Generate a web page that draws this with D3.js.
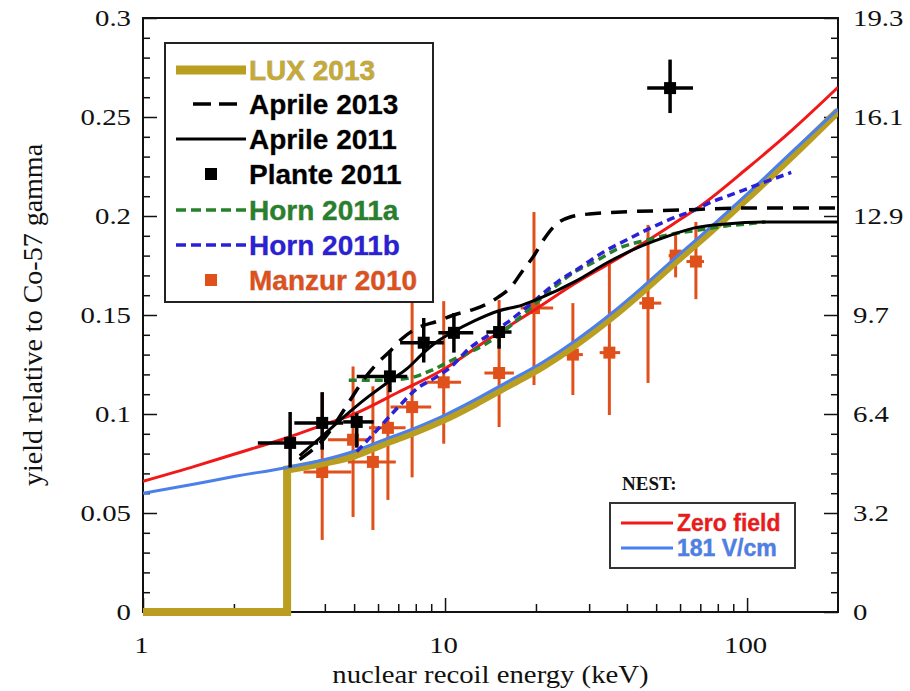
<!DOCTYPE html>
<html>
<head>
<meta charset="utf-8">
<script src="https://cdn.jsdelivr.net/npm/d3@7/dist/d3.min.js"></script>
<style>
  body { margin: 0; background: #fff; }
  svg text { font-family: "Liberation Serif", "Times New Roman", serif; fill: #111; }
  .leg text { font-family: "Liberation Sans", Arial, sans-serif; font-weight: bold;
    stroke: rgba(0, 0, 0, 0.35); stroke-width: 0.8px; paint-order: stroke; }
</style>
</head>
<body>
<svg id="chart" width="910" height="691"></svg>
<script>
// ---- data ----
const yTicks = [0, 0.05, 0.1, 0.15, 0.2, 0.25, 0.3];
const yTickLabels = ["0", "0.05", "0.1", "0.15", "0.2", "0.25", "0.3"];
const rightTickLabels = ["0", "3.2", "6.4", "9.7", "12.9", "16.1", "19.3"];
const xTicks = [1, 10, 100];

// LUX 2013 (step from 1 to 3 keV, then smooth curve)
const luxStep = [[1, 0], [3, 0], [3, 0.072]];
const lux2013 = [[3, 0.072], [4, 0.0755], [5, 0.079], [6.27, 0.085], [8.1, 0.0915], [10, 0.0975],
  [12.5, 0.105], [16, 0.114], [21, 0.124], [27, 0.135], [35, 0.148], [45, 0.162], [57, 0.176],
  [74, 0.191], [100, 0.209], [140, 0.23], [200, 0.253]];

const aprile2013 = [[3.3, 0.077], [4, 0.088], [4.9, 0.108], [5.3, 0.116], [6, 0.126], [6.6, 0.132],
  [7.2, 0.138], [8, 0.143], [9.5, 0.147], [10.7, 0.15], [12.5, 0.153], [13.5, 0.155], [15, 0.159],
  [16.5, 0.164], [18, 0.172], [19.7, 0.18], [21.2, 0.188], [23.4, 0.196], [26, 0.1995], [30, 0.201],
  [60, 0.203], [100, 0.204], [200, 0.204]];

const aprile2011 = [[3.3, 0.079], [4, 0.09], [5, 0.103], [5.6, 0.109], [6.6, 0.117], [7.5, 0.123],
  [8.5, 0.131], [9.5, 0.137], [10.5, 0.141], [12.5, 0.147], [15, 0.152], [18, 0.155], [21, 0.159],
  [27, 0.167], [35, 0.177], [45, 0.185], [55, 0.19], [67, 0.194], [85, 0.196], [120, 0.197], [200, 0.197]];

const horn2011a = [[4.8, 0.117], [6, 0.117], [7.5, 0.118], [9, 0.122], [10.5, 0.127], [12, 0.131],
  [13.5, 0.135], [16, 0.143], [19, 0.153], [23, 0.164], [27, 0.172], [30.5, 0.176], [38, 0.184],
  [47, 0.188], [57, 0.191], [70, 0.193], [85, 0.195], [100, 0.196], [115, 0.197]];

const horn2011b = [[5.1, 0.081], [5.8, 0.09], [7, 0.1035], [8.1, 0.113], [9.2, 0.118], [10.5, 0.124],
  [12, 0.133], [14, 0.14], [16, 0.146], [19, 0.155], [23.7, 0.167], [28, 0.174], [33.6, 0.182],
  [40, 0.188], [48, 0.194], [57, 0.199], [67, 0.203], [76, 0.207], [86, 0.21], [108, 0.2157], [140, 0.222]];

const nestZero = [[1, 0.066], [1.5, 0.0738], [2, 0.0797], [3, 0.088], [4, 0.0948], [5, 0.1],
  [7, 0.111], [10, 0.123], [14, 0.138], [20, 0.153], [27, 0.166], [35, 0.176], [45, 0.186],
  [57, 0.196], [70, 0.205], [100, 0.224], [140, 0.243], [200, 0.265]];

const nest181 = [[1, 0.06], [1.5, 0.0648], [2, 0.0684], [3, 0.073], [4, 0.077], [5, 0.0812],
  [6.27, 0.0869], [8.1, 0.0934], [10, 0.0995], [12.5, 0.107], [16, 0.116], [21, 0.126], [27, 0.137],
  [35, 0.15], [45, 0.164], [57, 0.178], [74, 0.193], [100, 0.211], [140, 0.232], [200, 0.254]];

// points: [E, yield, Elow, Ehigh, ylow, yhigh]
const plante2011 = [
  [3.07, 0.0854, 2.4, 3.8, 0.073, 0.101],
  [3.92, 0.0955, 3.17, 4.6, 0.082, 0.111],
  [5.1, 0.096, 4.6, 5.8, 0.083, 0.1005],
  [6.57, 0.119, 5.1, 7.5, 0.111, 0.132],
  [8.5, 0.136, 7.1, 9.9, 0.126, 0.1485],
  [10.7, 0.141, 9.5, 12.4, 0.131, 0.151],
  [15.1, 0.1414, 13.7, 16.6, 0.133, 0.1525],
  [55.6, 0.2646, 46.7, 66.2, 0.252, 0.279]
];

const manzur2010 = [
  [3.92, 0.0707, 3.4, 4.9, 0.0364, 0.111],
  [4.96, 0.087, 4.1, 5.6, 0.048, 0.124],
  [5.77, 0.0758, 4.77, 6.87, 0.0414, 0.114],
  [6.47, 0.093, 5.6, 7.4, 0.0566, 0.1157],
  [7.78, 0.1035, 6.6, 9.0, 0.068, 0.157],
  [9.9, 0.116, 8.7, 11.3, 0.085, 0.157],
  [15.1, 0.1207, 13.5, 16.9, 0.0934, 0.1576],
  [19.7, 0.1535, 17.8, 22.8, 0.1146, 0.202],
  [26.5, 0.13, 24.2, 28.6, 0.1096, 0.156],
  [35, 0.131, 32.5, 38, 0.0995, 0.176],
  [47, 0.156, 44, 52, 0.1157, 0.1955],
  [58, 0.18, 55, 62, 0.169, 0.191],
  [67.7, 0.177, 63, 72, 0.158, 0.197]
];

// ---- layout ----
const mLeft = 143, mRight = 838, mTop = 18, mBottom = 612;
const gold = "#b99e1f", red = "#f21818", nestBlue = "#4b80ec", orange = "#e0501a";
const green = "#27802a", hornBlue = "#2a20d8";

const svg = d3.select("#chart");
const x = d3.scaleLog().domain([1, 200]).range([mLeft, mRight]);
const y = d3.scaleLinear().domain([0, 0.3]).range([mBottom, mTop]);

svg.append("clipPath").attr("id", "clip")
  .append("rect").attr("x", mLeft).attr("y", mTop - 6).attr("width", mRight - mLeft).attr("height", mBottom - mTop + 12);

const squeeze = (sel, dx) => sel.selectAll("text")
  .attr("x", 0).attr("transform", `translate(${dx},0) scale(1.2,1)`)
  .style("font-size", "24px");

// minor ticks
const yMinor = d3.range(0, 31).map((i) => i / 100).filter((v, i) => i % 5 !== 0);
const xMinor = x.ticks().filter((v) => xTicks.indexOf(v) < 0 && v < 200);

svg.append("g").attr("transform", `translate(${mLeft},0)`)
  .call(d3.axisLeft(y).tickValues(yMinor).tickSize(-7).tickFormat(""));
svg.append("g").attr("transform", `translate(${mRight},0)`)
  .call(d3.axisRight(y).tickValues(yMinor).tickSize(-7).tickFormat(""));
svg.append("g").attr("transform", `translate(0,${mBottom})`)
  .call(d3.axisBottom(x).tickValues(xMinor).tickSize(-8).tickFormat(""));

const yl = svg.append("g").attr("transform", `translate(${mLeft},0)`)
  .call(d3.axisLeft(y).tickValues(yTicks).tickSize(-14).tickFormat((d, i) => yTickLabels[i]));
squeeze(yl, -12);
const yr = svg.append("g").attr("transform", `translate(${mRight},0)`)
  .call(d3.axisRight(y).tickValues(yTicks).tickSize(-14).tickFormat((d, i) => rightTickLabels[i]));
squeeze(yr, 15);
const xb = svg.append("g").attr("transform", `translate(0,${mBottom})`)
  .call(d3.axisBottom(x).tickValues(xTicks).tickSize(-14).tickPadding(24).tickFormat(d3.format("d")));
squeeze(xb, -2);

svg.selectAll(".domain").remove();
svg.selectAll(".tick line").attr("stroke", "#111").attr("stroke-width", 1.5);

svg.append("rect").attr("x", mLeft).attr("y", mTop).attr("width", mRight - mLeft).attr("height", mBottom - mTop)
  .attr("fill", "none").attr("stroke", "#111").attr("stroke-width", 2);

// axis titles
svg.append("text").attr("transform", `translate(${(mLeft + mRight) / 2},683) scale(1.15,1)`)
  .attr("text-anchor", "middle").style("font-size", "25px").text("nuclear recoil energy (keV)");
svg.append("text").attr("transform", `translate(42,${(mTop + mBottom) / 2}) rotate(-90)`)
  .attr("text-anchor", "middle").style("font-size", "28px").text("yield relative to Co-57 gamma");

// ---- marks ----
const plot = svg.append("g").attr("clip-path", "url(#clip)");
const smooth = d3.line().x((d) => x(d[0])).y((d) => y(d[1])).curve(d3.curveMonotoneX);
const straight = d3.line().x((d) => x(d[0])).y((d) => y(d[1]));

const bars = (data, color, w, size) => {
  const g = plot.append("g");
  data.forEach((d) => {
    g.append("line").attr("x1", x(d[2])).attr("x2", x(d[3])).attr("y1", y(d[1])).attr("y2", y(d[1]))
      .attr("stroke", color).attr("stroke-width", w);
    g.append("line").attr("x1", x(d[0])).attr("x2", x(d[0])).attr("y1", y(d[4])).attr("y2", y(d[5]))
      .attr("stroke", color).attr("stroke-width", w);
    g.append("rect").attr("x", x(d[0]) - size / 2).attr("y", y(d[1]) - size / 2)
      .attr("width", size).attr("height", size).attr("fill", color);
  });
};

bars(manzur2010, orange, 3, 12);

plot.append("path").attr("d", straight(luxStep) + smooth(lux2013).replace(/^M/, "L"))
  .attr("fill", "none").attr("stroke", gold).attr("stroke-width", 8).attr("stroke-linejoin", "miter");
plot.append("path").attr("d", smooth(nest181)).attr("fill", "none").attr("stroke", nestBlue).attr("stroke-width", 3);
plot.append("path").attr("d", smooth(nestZero)).attr("fill", "none").attr("stroke", red).attr("stroke-width", 3);
plot.append("path").attr("d", smooth(horn2011a)).attr("fill", "none").attr("stroke", green)
  .attr("stroke-width", 3.5).attr("stroke-dasharray", "8 5");
plot.append("path").attr("d", smooth(horn2011b)).attr("fill", "none").attr("stroke", hornBlue)
  .attr("stroke-width", 3.5).attr("stroke-dasharray", "8 5");
plot.append("path").attr("d", smooth(aprile2011)).attr("fill", "none").attr("stroke", "#000").attr("stroke-width", 3);
plot.append("path").attr("d", smooth(aprile2013)).attr("fill", "none").attr("stroke", "#000")
  .attr("stroke-width", 3.5).attr("stroke-dasharray", "16 10");

bars(plante2011, "#000", 3.5, 12);

// ---- legend (top left) ----
const leg = svg.append("g").attr("class", "leg");
leg.append("rect").attr("x", 165).attr("y", 43).attr("width", 268).attr("height", 259)
  .attr("fill", "#fff").attr("stroke", "#222").attr("stroke-width", 2);
const legItems = [
  { name: "LUX 2013", color: "#c6aa32", line: gold, w: 9, dash: null, y: 70 },
  { name: "Aprile 2013", color: "#000", line: "#000", w: 3.5, dash: "18 8", y: 104 },
  { name: "Aprile 2011", color: "#000", line: "#000", w: 3, dash: null, y: 139 },
  { name: "Plante 2011", color: "#000", line: null, marker: "#000", y: 174 },
  { name: "Horn 2011a", color: green, line: green, w: 3.5, dash: "10 5", y: 210 },
  { name: "Horn 2011b", color: hornBlue, line: hornBlue, w: 3.5, dash: "10 5", y: 245 },
  { name: "Manzur 2010", color: orange, line: null, marker: orange, y: 280 }
];
legItems.forEach((it) => {
  if (it.line) {
    const short = it.dash === "18 8";
    leg.append("line").attr("x1", short ? 193 : 176).attr("x2", short ? 237 : 246)
      .attr("y1", it.y).attr("y2", it.y).attr("stroke", it.line).attr("stroke-width", it.w)
      .attr("stroke-dasharray", it.dash);
  } else {
    leg.append("rect").attr("x", 205).attr("y", it.y - 6).attr("width", 12).attr("height", 12).attr("fill", it.marker);
  }
  leg.append("text").attr("x", 249).attr("y", it.y).attr("dy", "0.36em")
    .style("font-size", "28px").style("fill", it.color).text(it.name);
});

// ---- NEST legend ----
svg.append("text").attr("x", 622).attr("y", 490).style("font-size", "19px").style("font-weight", "bold").text("NEST:");
const nl = svg.append("g").attr("class", "leg");
nl.append("rect").attr("x", 610).attr("y", 503).attr("width", 185).attr("height", 65)
  .attr("fill", "#fff").attr("stroke", "#333").attr("stroke-width", 2);
[{ name: "Zero field", c: red, y: 523 }, { name: "181 V/cm", c: nestBlue, y: 548 }].forEach((it) => {
  nl.append("line").attr("x1", 621).attr("x2", 673).attr("y1", it.y).attr("y2", it.y)
    .attr("stroke", it.c).attr("stroke-width", 3);
  nl.append("text").attr("x", 677).attr("y", it.y).attr("dy", "0.36em")
    .style("font-size", "23px").style("fill", it.c).text(it.name);
});
</script>
</body>
</html>
